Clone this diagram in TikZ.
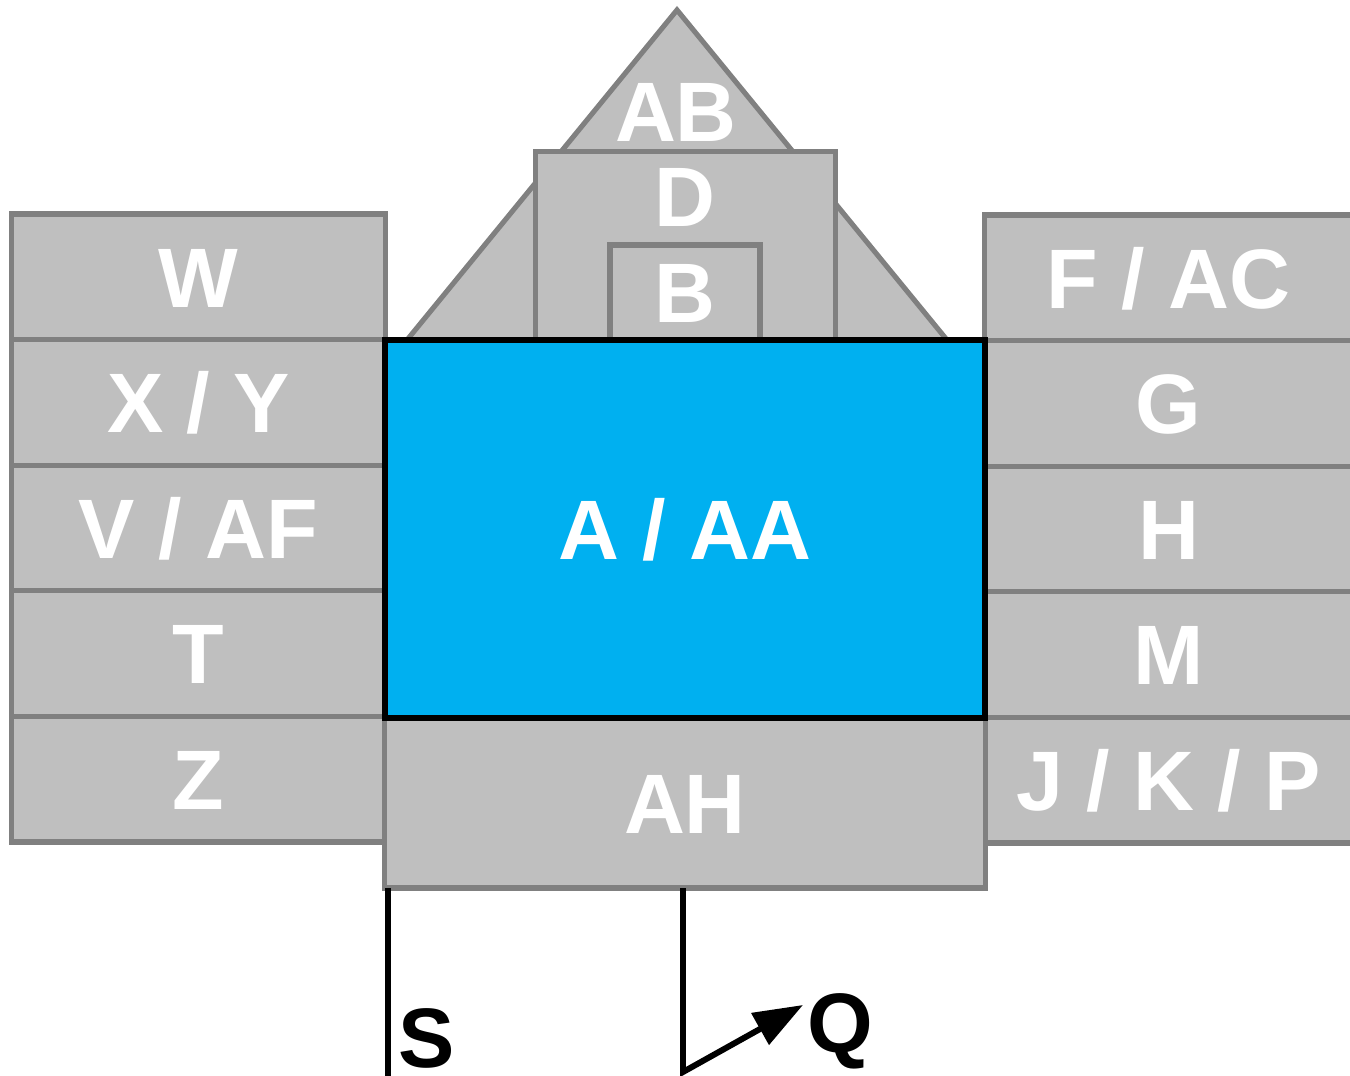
\documentclass[tikz,border=0pt]{standalone}
\usepackage{fontspec}
\setmainfont{Liberation Sans}
\usetikzlibrary{positioning,arrows.meta}
\definecolor{cellgrey}{HTML}{BFBFBF}
\definecolor{edgegrey}{HTML}{808080}
\definecolor{coreblue}{HTML}{00B0F0}
\tikzset{
  bigfont/.style={font=\bfseries\fontsize{24}{28}\selectfont},
  cell/.style={draw=edgegrey, line width=1.45pt, fill=cellgrey, text=white, bigfont, inner sep=0pt, outer sep=0pt, text height=17.2pt, text depth=0pt},
  leftcell/.style={cell, minimum width=3.73cm, minimum height=1.256cm},
  rightcell/.style={cell, minimum width=3.67cm, minimum height=1.256cm},
  corebox/.style={draw=black, line width=1.6pt, fill=coreblue, text=white, bigfont, inner sep=0pt, outer sep=0pt, text height=17.2pt, text depth=0pt, minimum width=6cm, minimum height=3.78cm},
  roof/.style={draw=edgegrey, line width=1.45pt, fill=cellgrey},
  tag/.style={text=white, bigfont, inner sep=0pt, text height=17.2pt, text depth=0pt},
  axislabel/.style={text=black, bigfont, inner sep=0pt, text height=17.2pt, text depth=0pt},
  wire/.style={line width=1.7pt, black},
  wirearrow/.style={wire, -{Triangle[length=14pt, width=10pt]}}
}

\begin{document}
\begin{tikzpicture}[x=0.01cm, y=-0.01cm]
  \clip (0,0) rectangle (1350,1076);
  % roof and top boxes
  \draw[roof] (677,10) -- (407,340) -- (947,340) -- cycle;
  \node[tag] (ab) at (676,111) {AB};
  \node[cell, minimum width=2.99cm, minimum height=1.88cm] (dbox) at (685.5,246) {};
  \node[tag] (d) at (685,196) {D};
  \node[cell, minimum width=1.5cm, minimum height=0.95cm] (b) at (685,292.5) {B};
  % left column
  \node[leftcell] (w) at (198.5,276.8) {W};
  \node[leftcell] (xy) at (198.5,402.4) {X / Y};
  \node[leftcell] (vaf) at (198.5,528) {V / AF};
  \node[leftcell] (t) at (198.5,653.6) {T};
  \node[leftcell] (z) at (198.5,779.2) {Z};
  % right column
  \node[rightcell] (fac) at (1168.5,277.8) {F / AC};
  \node[rightcell] (g) at (1168.5,403.4) {G};
  \node[rightcell] (h) at (1168.5,529) {H};
  \node[rightcell] (m) at (1168.5,654.6) {M};
  \node[rightcell] (jkp) at (1168.5,780.2) {J / K / P};
  % centre
  \node[cell, minimum width=6cm, minimum height=1.7cm] (ah) at (685,803) {AH};
  \node[corebox] (core) at (685,529) {A / AA};
  % axes
  \coordinate (sEnd) at (388,1080);
  \coordinate (qBend) at (683,1072);
  \coordinate (qTip) at (803,1005);
  \draw[wire] (ah.south -| sEnd) -- (sEnd);
  \draw[wirearrow] (ah.south -| qBend) -- (qBend) -- (qTip);
  \node[axislabel] (s) at (427,1037) {S};
  \node[axislabel] (q) at (840,1022) {Q};
\end{tikzpicture}
\end{document}
